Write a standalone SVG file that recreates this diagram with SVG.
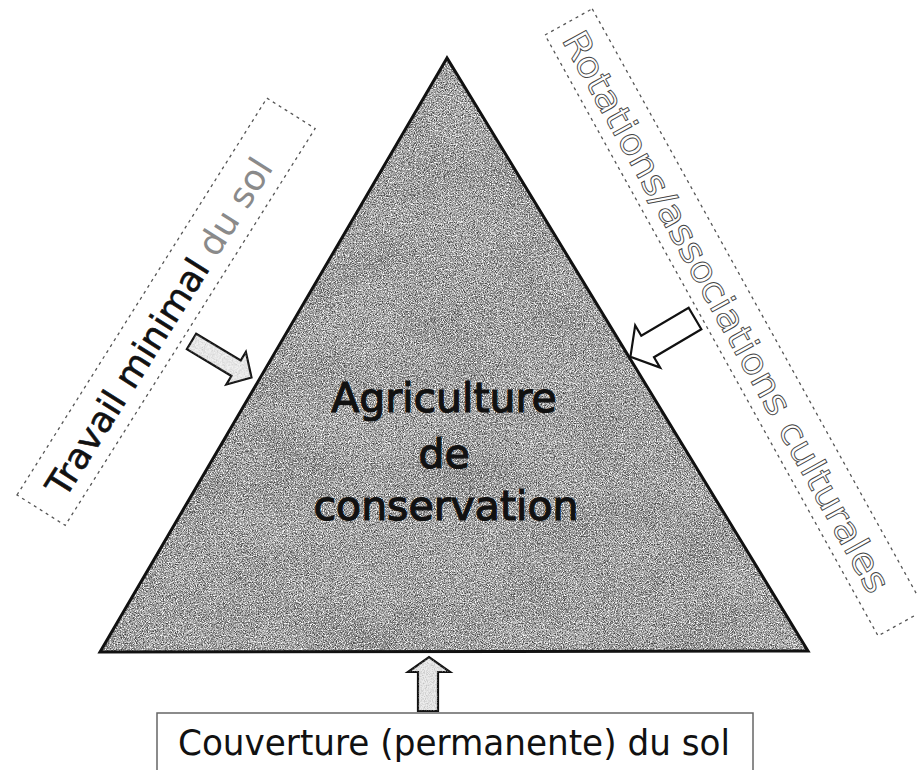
<svg xmlns="http://www.w3.org/2000/svg" width="917" height="770" viewBox="0 0 917 770">
  <style>
    .lbl { font-family: "DejaVu Sans", Verdana, sans-serif; }
    .main { font-size: 41px; fill: #111; stroke: #111; stroke-width: 1.2; text-anchor: middle; }
    .dash { fill: #fff; stroke: #555; stroke-width: 1.3; stroke-dasharray: 3 4; }
    .arrow { stroke: #111; stroke-width: 2.2; stroke-linejoin: miter; }
    .hollow { fill: #fff; stroke: #444; stroke-width: 0.9; }
  </style>
  <defs>
    <filter id="grain" filterUnits="userSpaceOnUse" x="90" y="50" width="730" height="610">
      <feTurbulence type="fractalNoise" baseFrequency="0.9" numOctaves="2" seed="7" result="t"/>
      <feColorMatrix in="t" type="matrix" values="0 0 0 0 0.05  0 0 0 0 0.05  0 0 0 0 0.05  3 0 0 0 -1.15" result="g"/>
      <feComposite in="g" in2="SourceGraphic" operator="in"/>
    </filter>
    <filter id="light" filterUnits="userSpaceOnUse" x="90" y="50" width="730" height="610">
      <feTurbulence type="fractalNoise" baseFrequency="0.85" numOctaves="2" seed="21" result="t"/>
      <feColorMatrix in="t" type="matrix" values="0 0 0 0 1  0 0 0 0 1  0 0 0 0 1  3 0 0 0 -1.25" result="g"/>
      <feComposite in="g" in2="SourceGraphic" operator="in"/>
    </filter>
    <filter id="blotch" filterUnits="userSpaceOnUse" x="90" y="50" width="730" height="610">
      <feTurbulence type="fractalNoise" baseFrequency="0.012 0.02" numOctaves="3" seed="11" result="t"/>
      <feColorMatrix in="t" type="matrix" values="0 0 0 0 0.2  0 0 0 0 0.2  0 0 0 0 0.2  0 1.6 0 0 -0.6" result="g"/>
      <feComposite in="g" in2="SourceGraphic" operator="in"/>
    </filter>
    <filter id="speck" filterUnits="objectBoundingBox" x="0" y="0" width="1" height="1">
      <feTurbulence type="fractalNoise" baseFrequency="0.9" numOctaves="2" seed="3" result="t"/>
      <feColorMatrix in="t" type="matrix" values="0 0 0 0 0.4  0 0 0 0 0.4  0 0 0 0 0.4  1.5 0 0 0 -0.6" result="g"/>
      <feComposite in="g" in2="SourceGraphic" operator="in"/>
    </filter>
  </defs>
  <rect width="917" height="770" fill="#fff"/>

  <g id="center">
    <polygon points="447,58 100,652 808,651" fill="#a6a6a6"/>
    <polygon points="447,58 100,652 808,651" fill="#000" filter="url(#blotch)"/>
    <polygon points="447,58 100,652 808,651" fill="#000" filter="url(#grain)"/>
    <polygon points="447,58 100,652 808,651" fill="#fff" filter="url(#light)"/>
    <polygon points="447,58 100,652 808,651" fill="none" stroke="#111" stroke-width="3" stroke-linejoin="miter"/>
    <text class="lbl main" x="444" y="412">Agriculture</text>
    <text class="lbl main" x="444" y="468">de</text>
    <text class="lbl main" x="446" y="520">conservation</text>
  </g>

  <g id="left-box" transform="translate(17,495) rotate(-57.8)">
    <rect class="dash" x="0" y="0" width="469" height="57"/>
    <text class="lbl" x="22" y="43" font-size="35" textLength="392" lengthAdjust="spacingAndGlyphs"><tspan fill="#111" stroke="#111" stroke-width="0.6">Travail minimal</tspan><tspan fill="#8a8a8a"> du sol</tspan></text>
  </g>

  <g id="right-box" transform="translate(545,35) rotate(61)">
    <rect class="dash" x="0" y="-54" width="687" height="54" stroke="#666"/>
    <text class="lbl hollow" x="12" y="-12" font-size="36" textLength="636" lengthAdjust="spacingAndGlyphs">Rotations/associations culturales</text>
  </g>

  <g id="bottom-box">
    <rect x="157" y="713" width="596" height="70" fill="#fff" stroke="#666" stroke-width="1.5"/>
    <text class="lbl" x="178" y="755" font-size="36" fill="#111" textLength="552" lengthAdjust="spacingAndGlyphs">Couverture (permanente) du sol</text>
  </g>

  <g id="connectors">
    <g transform="translate(191.5,341.5) rotate(31)">
      <path class="arrow" d="M0,-9 L52,-9 L52,-19 L70,0 L52,19 L52,9 L0,9 Z" fill="#f2f2f2"/>
      <path d="M0,-9 L52,-9 L52,-19 L70,0 L52,19 L52,9 L0,9 Z" fill="#000" filter="url(#speck)"/>
    </g>
    <g transform="translate(695,318.5) rotate(149.4)">
      <path class="arrow" d="M0,-12.5 L55,-12.5 L55,-24.5 L75,0 L55,24.5 L55,12.5 L0,12.5 Z" fill="#fff"/>
    </g>
    <g>
      <path class="arrow" d="M418,711 L418,672 L408,672 L429,657 L450,672 L438,672 L438,711 Z" fill="#ececec"/>
      <path d="M418,711 L418,672 L408,672 L429,657 L450,672 L438,672 L438,711 Z" fill="#000" filter="url(#speck)"/>
    </g>
  </g>
</svg>
